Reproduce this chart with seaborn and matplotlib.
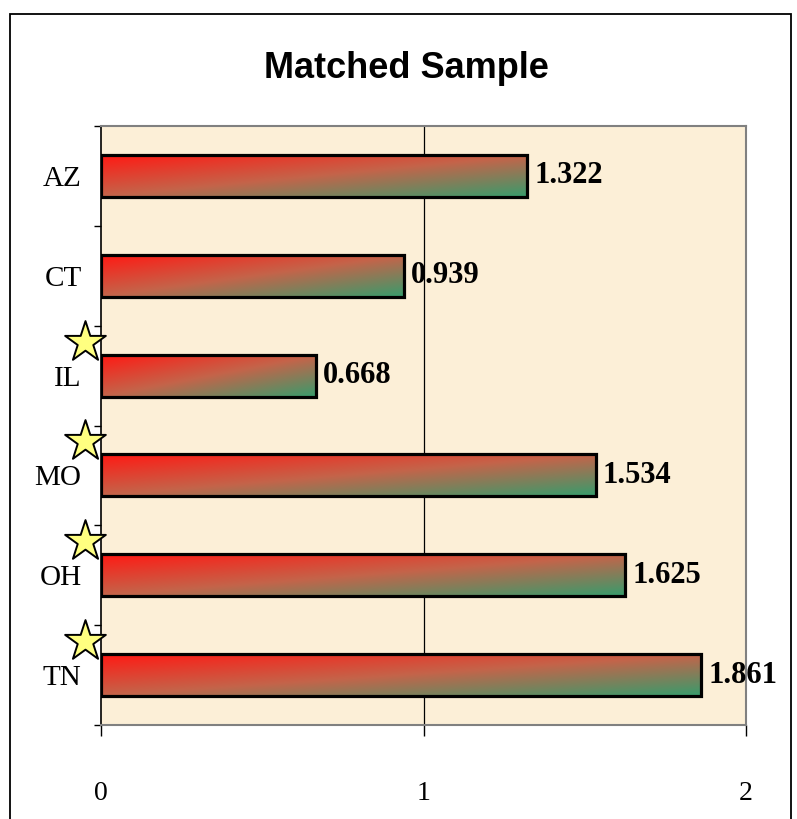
import numpy as np
import pandas as pd
import matplotlib.pyplot as plt
from matplotlib.colors import LinearSegmentedColormap
from matplotlib.patches import Rectangle
import seaborn as sns

# values
states = ["AZ", "CT", "IL", "MO", "OH", "TN"]
scores = [1.322, 0.939, 0.668, 1.534, 1.625, 1.861]
starred = ["IL", "MO", "OH", "TN"]
x_ticks = [0, 1, 2]

df = pd.DataFrame({"state": states, "score": scores})

sns.set_style("white")
plt.rcParams["font.family"] = ["Liberation Serif", "DejaVu Serif"]
plt.rcParams["text.color"] = "black"
plt.rcParams["xtick.color"] = "black"
plt.rcParams["ytick.color"] = "black"

fig = plt.figure(figsize=(7.97, 8.19), dpi=100)
ax = fig.add_axes([101 / 797, 1 - 725 / 819, (746 - 101) / 797, (725 - 126) / 819])
ax.set_facecolor("#fcefd7")

sns.barplot(data=df, x="score", y="state", order=states, orient="h",
            width=0.42, color="white", ax=ax)

# diagonal red -> green gradient inside each bar
cmap = LinearSegmentedColormap.from_list("rg", ["#ff1a14", "#c4644a", "#389c6c"])
u = np.linspace(0, 1, 200)
v = np.linspace(0, 1, 40)
uu, vv = np.meshgrid(u, v)
grad = (uu + vv) / 2

for p in ax.patches:
    x0, y0 = p.get_x(), p.get_y()
    w, h = p.get_width(), p.get_height()
    p.set_facecolor("none")
    p.set_edgecolor("black")
    p.set_linewidth(2.3)
    p.set_zorder(3)
    im = ax.imshow(grad, cmap=cmap, aspect="auto", origin="upper",
                   extent=(x0, x0 + w, y0 + h, y0), zorder=2, interpolation="bilinear")
    im.set_clip_path(p)

for i, val in enumerate(scores):
    ax.annotate(f"{val:.3f}", (val, i), xytext=(5, 0), textcoords="offset points",
                ha="left", va="center", fontsize=22, fontweight="bold",
                color="black", zorder=5)

# stars beside some state labels
star_y = [states.index(s) - 0.34 for s in starred]
ax.scatter([-0.05] * len(star_y), star_y, marker="*", s=950, color="#ffff80",
           edgecolor="black", linewidth=1.4, clip_on=False, zorder=6)

ax.axvline(1, color="black", lw=0.9, zorder=1)

ax.set_xlim(0, 2)
ax.set_ylim(len(states) - 0.5, -0.5)
ax.set_xticks(x_ticks)
ax.set_xticklabels([str(t) for t in x_ticks])
ax.set_yticks(range(len(states)))
ax.set_yticks(np.arange(-0.5, len(states), 1), minor=True)
ax.set_yticklabels(states)
ax.set_xlabel("")
ax.set_ylabel("")
ax.tick_params(axis="y", which="major", length=0, pad=14, labelsize=21)
ax.tick_params(axis="y", which="minor", left=True, length=5, width=1, color="black")
ax.tick_params(axis="x", bottom=True, length=8, width=1, color="black", pad=32, labelsize=20)

for side in ["top", "right", "bottom"]:
    ax.spines[side].set_color("#808080")
    ax.spines[side].set_linewidth(1.5)
ax.spines["left"].set_color("black")
ax.spines["left"].set_linewidth(1.2)

fig.text(0.51, 1 - 68 / 819, "Matched Sample", ha="center", va="center",
         fontsize=26, fontweight="bold", color="black",
         family=["Liberation Sans Narrow", "Liberation Sans", "DejaVu Sans"])

fig.patches.append(Rectangle((10 / 797, -0.01), (791 - 10) / 797, 1.0015 - 7 / 819,
                             transform=fig.transFigure, fill=False,
                             edgecolor="black", linewidth=1.3))

fig.savefig("out.png", dpi=100)
